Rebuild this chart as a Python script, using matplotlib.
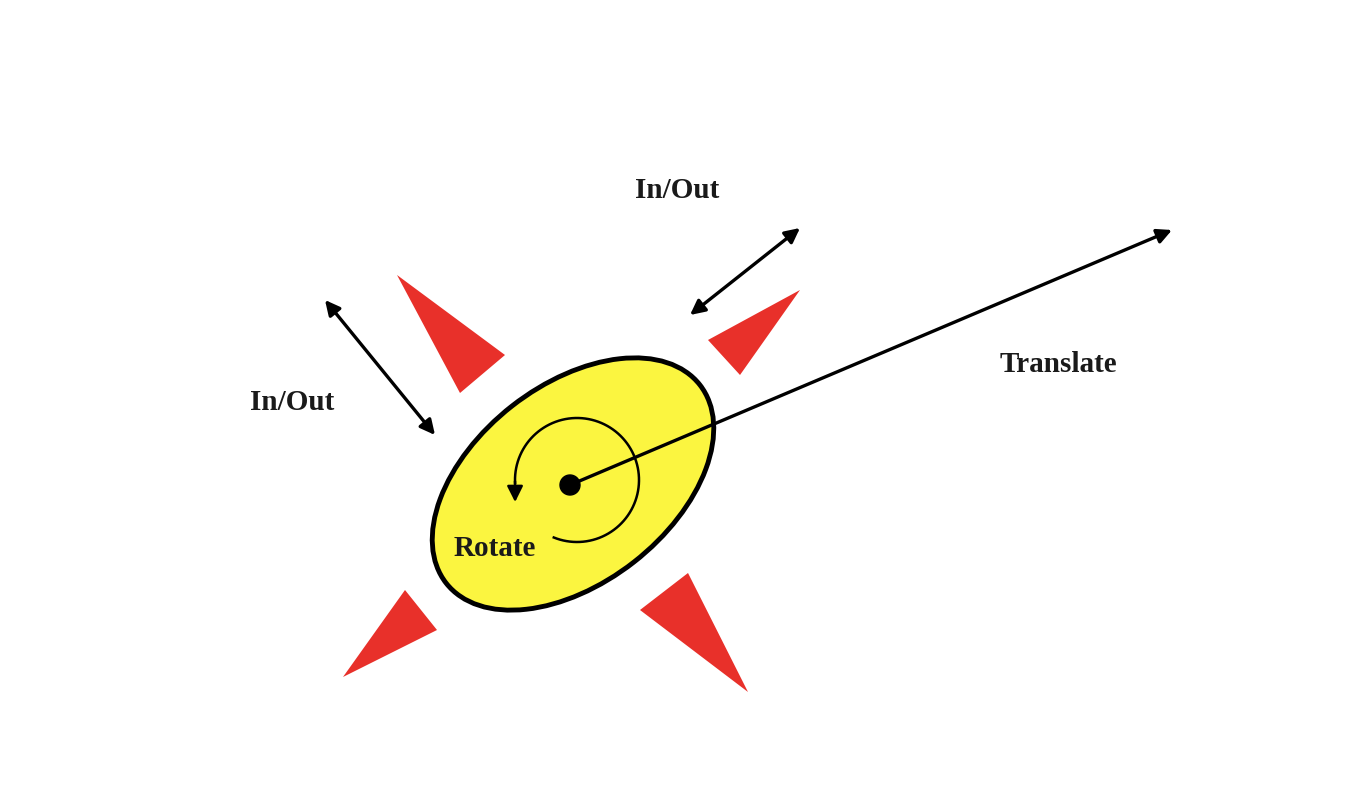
import numpy as np
import matplotlib
matplotlib.use("Agg")
import matplotlib.pyplot as plt
from matplotlib.patches import Ellipse, Polygon, Circle

# diagram elements (pixel space)
labels = ["In/Out", "In/Out", "Translate", "Rotate"]
label_pos = [(677, 190), (292, 403), (1058, 364), (495, 548)]
triangles = [
    [(397, 275), (505, 355), (460, 393)],
    [(800, 290), (708, 340), (740, 375)],
    [(343, 677), (405, 590), (437, 630)],
    [(640, 610), (688, 573), (748, 692)],
]
double_arrows = [((325, 300), (435, 435)), ((690, 315), (800, 228))]
center = (570, 485)
translate_end = (1172, 230)

fig = plt.figure(figsize=(13.48, 8.08), dpi=100)
ax = fig.add_axes([0, 0, 1, 1])
ax.set_xlim(0, 1348)
ax.set_ylim(808, 0)
ax.axis("off")

ax.add_patch(Ellipse((573, 484), 322, 198, angle=-38, facecolor="#fbf540",
                     edgecolor="black", lw=3.5, zorder=2))
for t in triangles:
    ax.add_patch(Polygon(t, closed=True, facecolor="#e8302a", edgecolor="none", zorder=2))

for (a, b) in double_arrows:
    ax.annotate("", xy=b, xytext=a,
                arrowprops=dict(arrowstyle="<|-|>", color="black", lw=2.4,
                                mutation_scale=22, shrinkA=0, shrinkB=0))

ax.annotate("", xy=translate_end, xytext=center,
            arrowprops=dict(arrowstyle="-|>", color="black", lw=2.4,
                            mutation_scale=22, shrinkA=0, shrinkB=0), zorder=4)
ax.add_patch(Circle(center, 10, color="black", zorder=5))

# rotation arc
cx, cy, r = 577, 480, 62
t = np.radians(np.linspace(-112, 195, 200))
xs = cx + r * np.cos(t)
ys = cy - r * np.sin(t)
ax.plot(xs[:-8], ys[:-8], color="black", lw=1.8, zorder=3)
ax.annotate("", xy=(xs[-1] - 2, ys[-1] + 6), xytext=(xs[-10], ys[-10]),
            arrowprops=dict(arrowstyle="-|>", color="black", lw=1.8,
                            mutation_scale=24, shrinkA=0, shrinkB=0), zorder=3)

for s, p in zip(labels, label_pos):
    ax.text(p[0], p[1], s, ha="center", va="center", fontsize=21,
            fontweight="bold", family="Liberation Serif", color="#1a1a1a", zorder=6)

fig.savefig("out.png", dpi=100, facecolor="white")
